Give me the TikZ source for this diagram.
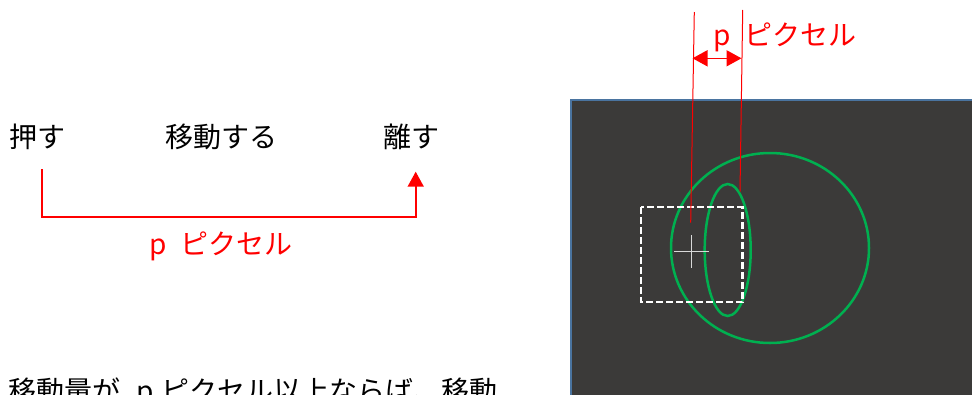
\documentclass[tikz,border=0pt]{standalone}
\usepackage{fontspec}
\setmainfont{Noto Sans CJK JP}
\usetikzlibrary{arrows.meta}
\definecolor{panel}{HTML}{3B3A39}
\definecolor{panelborder}{HTML}{4A74A0}
\definecolor{grn}{HTML}{00B050}
\definecolor{ltgray}{HTML}{D9D9D9}
\definecolor{redc}{HTML}{FF0000}
\tikzset{redtip/.tip={Triangle[length=15pt,width=16pt]}}
\begin{document}
\begin{tikzpicture}[x=1pt,y=-1pt,
  lbl/.style={inner sep=0pt, anchor=base west, font=\fontsize{28}{34}\selectfont},
  redlbl/.style={lbl, text=redc},
  redline/.style={draw=redc, line width=1pt},
  arr/.style={draw=redc, line width=1.6pt},
  greenring/.style={draw=grn, line width=2.5pt},
  dashbox/.style={draw=white, line width=2.2pt, dash pattern=on 7pt off 3pt},
  cross/.style={draw=ltgray, line width=1pt}]
\clip (0,0) rectangle (972,394);
\fill[white] (0,0) rectangle (972,394);
% left side labels
\node[lbl] (push) at (9,147) {押す};
\node[lbl] (move) at (165,147) {移動する};
\node[lbl] (release) at (383,147) {離す};
\node[redlbl] (plabel) at (149,254) {p\hspace{14pt}ピクセル};
\node[lbl] (bottom) at (8,401) {移動量が\hspace{16pt}p\hspace{8pt}ピクセル以上ならば、移動};
% left connector
\coordinate (a) at (42,169);
\coordinate (b) at (415.7,171.7);
\draw[arr, -redtip] (a) |- ([yshift=-45pt]b) -- (b);
% right panel
\draw[draw=panelborder, line width=2pt, fill=panel] (571,100) rectangle (990,420);
\draw[greenring] (770,248) ellipse [x radius=99pt, y radius=95pt];
\draw[greenring] (727.7,250) ellipse [x radius=23pt, y radius=66pt];
\draw[dashbox] (641,207) rectangle (742.5,302);
\coordinate (c1) at (691,235);
\coordinate (c2) at (691,268);
\coordinate (c3) at (674,251.7);
\coordinate (c4) at (709,251.7);
\draw[cross] (c1) -- (c2);
\draw[cross] (c3) -- (c4);
% dimension lines
\coordinate (l1) at (694.3,12);
\coordinate (l2) at (690.7,222.7);
\coordinate (r1) at (742.7,10);
\coordinate (r2) at (740,191.7);
\draw[redline] (l1) -- (l2);
\draw[redline] (r1) -- (r2);
\coordinate (d1) at (692.5,58.3);
\coordinate (d2) at (741.5,58.3);
\draw[arr, redtip-redtip] (d1) -- (d2);
\node[redlbl] (toplabel) at (713,45) {p\hspace{14pt}ピクセル};
\end{tikzpicture}
\end{document}
